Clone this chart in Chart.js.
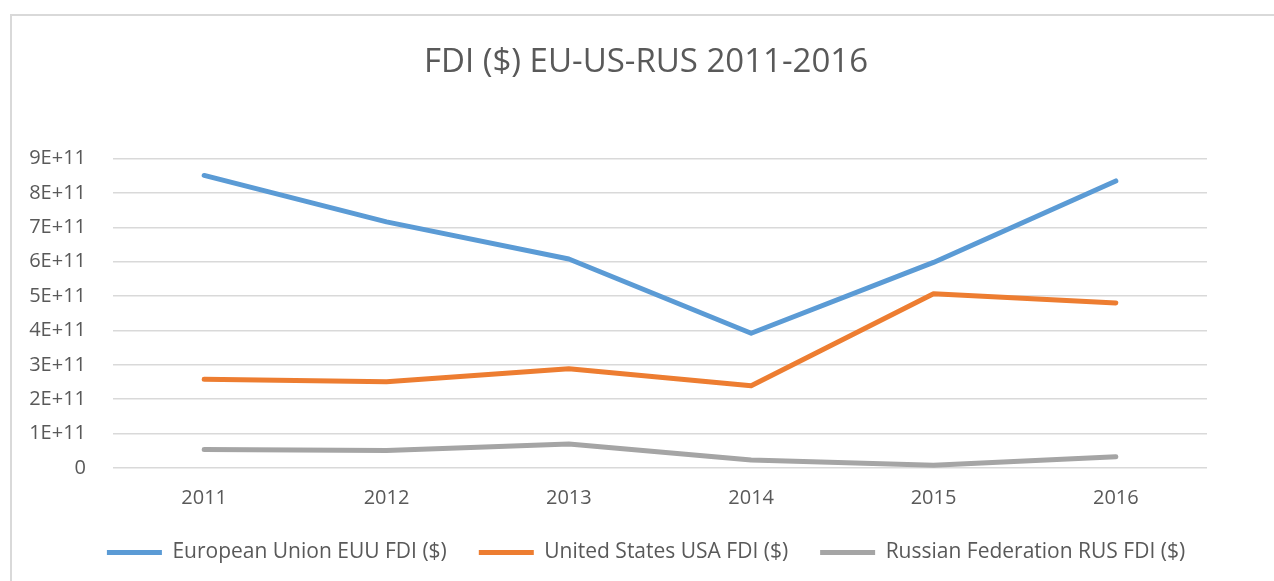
<html>
<head>
<title>FDI EU-US-RUS</title>
<style>
body { margin: 0; background: #fff; overflow: hidden; }
#frame { position: absolute; left: 10px; top: 14px; width: 1300px; height: 600px;
         border-top: 2px solid #d9d9d9; border-left: 2px solid #d9d9d9; }
#wrap { position: absolute; left: 0; top: 0; width: 1274px; height: 581px; }
</style>
</head>
<body>
<script src="https://cdn.jsdelivr.net/npm/chart.js@4.4.1/dist/chart.umd.min.js"></script>

<div id="frame"></div>
<div id="wrap"><canvas id="myChart" width="1274" height="581"></canvas></div>

<script type="text/javascript">
var years = ["2011", "2012", "2013", "2014", "2015", "2016"];
var euFdi = [8.51e11, 7.16e11, 6.08e11, 3.92e11, 5.98e11, 8.35e11];
var usFdi = [2.58e11, 2.51e11, 2.89e11, 2.39e11, 5.07e11, 4.80e11];
var rusFdi = [0.54e11, 0.51e11, 0.70e11, 0.23e11, 0.08e11, 0.33e11];
var seriesNames = ["European Union EUU FDI ($)", "United States USA FDI ($)", "Russian Federation RUS FDI ($)"];
var colors = ["#5b9bd5", "#ed7d31", "#a5a5a5"];

var textColor = "#595959";
var fontName = "'Open Sans', 'Noto Sans', sans-serif";

function makeSet(i, values) {
  return {label: seriesNames[i],
          data: values,
          borderColor: colors[i],
          backgroundColor: colors[i],
          borderWidth: 5,
          borderCapStyle: "round",
          borderJoinStyle: "round",
          pointRadius: 0,
          tension: 0,
          fill: false};
}

var ctx = document.getElementById("myChart").getContext("2d");

var myLineChart = new Chart(ctx, {
  type: "line",
  data: {
    labels: years,
    datasets: [makeSet(0, euFdi), makeSet(1, usFdi), makeSet(2, rusFdi)]
  },
  options: {
    responsive: false,
    animation: false,
    layout: {padding: {left: 28, right: 10, top: 0, bottom: 8}},
    plugins: {
      title: {
        display: true,
        text: "FDI ($) EU-US-RUS 2011-2016",
        color: textColor,
        font: {family: fontName, size: 33, weight: "normal"},
        padding: {top: 43, bottom: 76}
      },
      legend: {
        position: "bottom",
        labels: {
          color: textColor,
          font: {family: fontName, size: 21},
          boxWidth: 55,
          boxHeight: 5,
          padding: 32,
          generateLabels: function(chart) {
            var items = Chart.defaults.plugins.legend.labels.generateLabels(chart);
            items.forEach(function(it) { it.lineWidth = 0; });
            return items;
          }
        }
      },
      tooltip: {enabled: false}
    },
    scales: {
      x: {
        offset: true,
        grid: {display: false},
        border: {display: false},
        ticks: {color: textColor, font: {family: fontName, size: 20}, padding: 10},
        afterFit: function(s) { s.height = 42; }
      },
      y: {
        min: 0,
        max: 9e11,
        grid: {color: "#d9d9d9", lineWidth: 1.5, drawTicks: false},
        border: {display: false},
        ticks: {
          stepSize: 1e11,
          color: textColor,
          font: {family: fontName, size: 20},
          padding: 27,
          callback: function(v) {
            if (v === 0) return "0";
            return Math.round(v / 1e11) + "E+11";
          }
        },
        afterFit: function(s) { s.width = 85; }
      },
      yRight: {
        position: "right",
        min: 0,
        max: 9e11,
        grid: {display: false},
        border: {display: false},
        ticks: {display: false},
        afterFit: function(s) { s.width = 57; }
      }
    }
  }
});
</script>
</body>
</html>
